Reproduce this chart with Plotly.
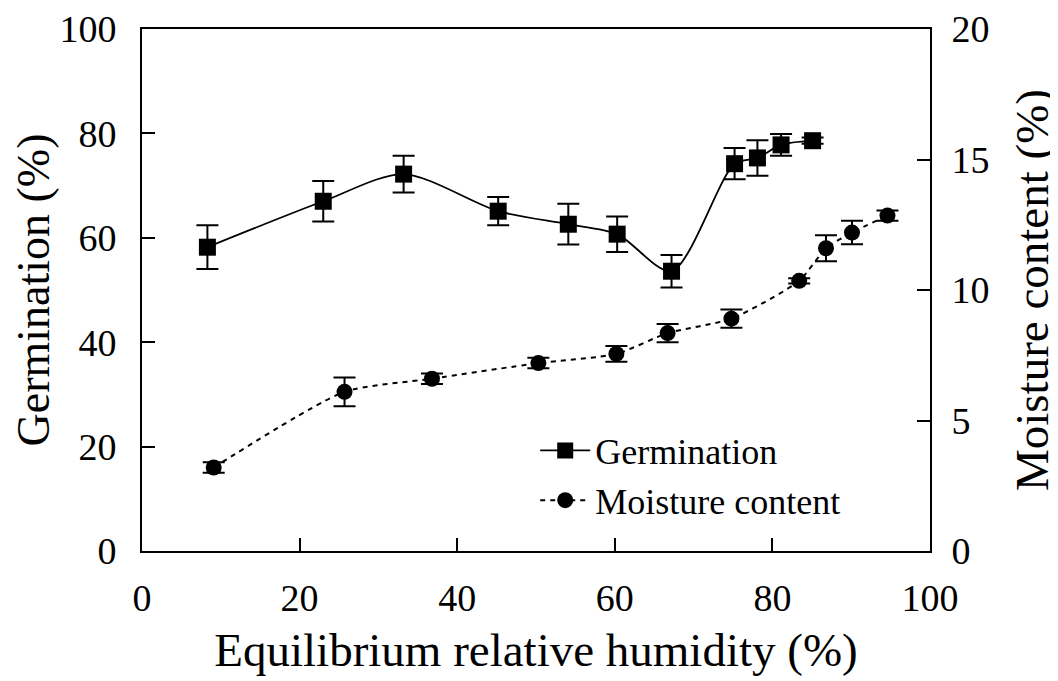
import plotly.graph_objects as go

# Germination data
germ_x = [8.3, 23.0, 33.2, 45.2, 54.1, 60.3, 67.2, 75.2, 78.1, 81.1, 85.1]
germ_y = [58.2, 67.0, 72.2, 65.1, 62.6, 60.7, 53.6, 74.2, 75.3, 77.8, 78.6]
germ_err = [4.2, 3.9, 3.5, 2.7, 3.9, 3.4, 3.1, 3.0, 3.4, 2.1, 0.6]

# Moisture content data
mc_x = [9.1, 25.7, 36.8, 50.3, 60.2, 66.7, 74.8, 83.4, 86.8, 90.1, 94.6]
mc_y = [3.2, 6.1, 6.6, 7.2, 7.55, 8.35, 8.9, 10.35, 11.6, 12.2, 12.85]
mc_err = [0.2, 0.55, 0.2, 0.2, 0.3, 0.35, 0.35, 0.1, 0.5, 0.45, 0.2]

x_ticks = [0, 20, 40, 60, 80, 100]
left_ticks = [0, 20, 40, 60, 80, 100]
right_ticks = [0, 5, 10, 15, 20]

FONT = "Liberation Serif"

fig = go.Figure()
fig.add_trace(go.Scatter(
    x=germ_x, y=germ_y, name="Germination", mode="lines+markers",
    line=dict(color="black", width=1.8, shape="spline", smoothing=0.8),
    marker=dict(symbol="square", size=17, color="black"),
    error_y=dict(type="data", array=germ_err, color="black", thickness=2, width=11),
    yaxis="y"))
fig.add_trace(go.Scatter(
    x=mc_x, y=mc_y, name="Moisture content", mode="lines+markers",
    line=dict(color="black", width=2, shape="spline", smoothing=0.6, dash="5px,5px"),
    marker=dict(symbol="circle", size=16, color="black"),
    error_y=dict(type="data", array=mc_err, color="black", thickness=2, width=11),
    yaxis="y2"))

axis_common = dict(showgrid=False, zeroline=False, showline=True, linecolor="black",
                   linewidth=2, ticks="inside", ticklen=13, tickwidth=2, tickcolor="black",
                   tickfont=dict(family=FONT, size=38, color="black"), automargin=False)

fig.update_layout(
    width=1050, height=673,
    margin=dict(l=134, r=128, t=21, b=130),
    paper_bgcolor="white", plot_bgcolor="white",
    font=dict(family=FONT, color="black"),
    xaxis=dict(range=[0, 100], tickvals=x_ticks, mirror=True, ticklabelstandoff=12,
               title=dict(text="Equilibrium relative humidity (%)", font=dict(family=FONT, size=47), standoff=16),
               **axis_common),
    yaxis=dict(range=[0, 100], tickvals=left_ticks, ticklabelstandoff=16,
               title=dict(text="Germination (%)", font=dict(family=FONT, size=46), standoff=14),
               **axis_common),
    yaxis2=dict(range=[0, 20], tickvals=right_ticks, overlaying="y", side="right", ticklabelstandoff=12,
                title=dict(text="Moisture content (%)", font=dict(family=FONT, size=47), standoff=28),
                **axis_common),
    legend=dict(x=0.499, y=0.25, xanchor="left", yanchor="top",
                font=dict(family=FONT, size=36, color="black"), itemwidth=50,
                bgcolor="rgba(0,0,0,0)"),
    showlegend=True,
)

fig.write_html("out.html")
